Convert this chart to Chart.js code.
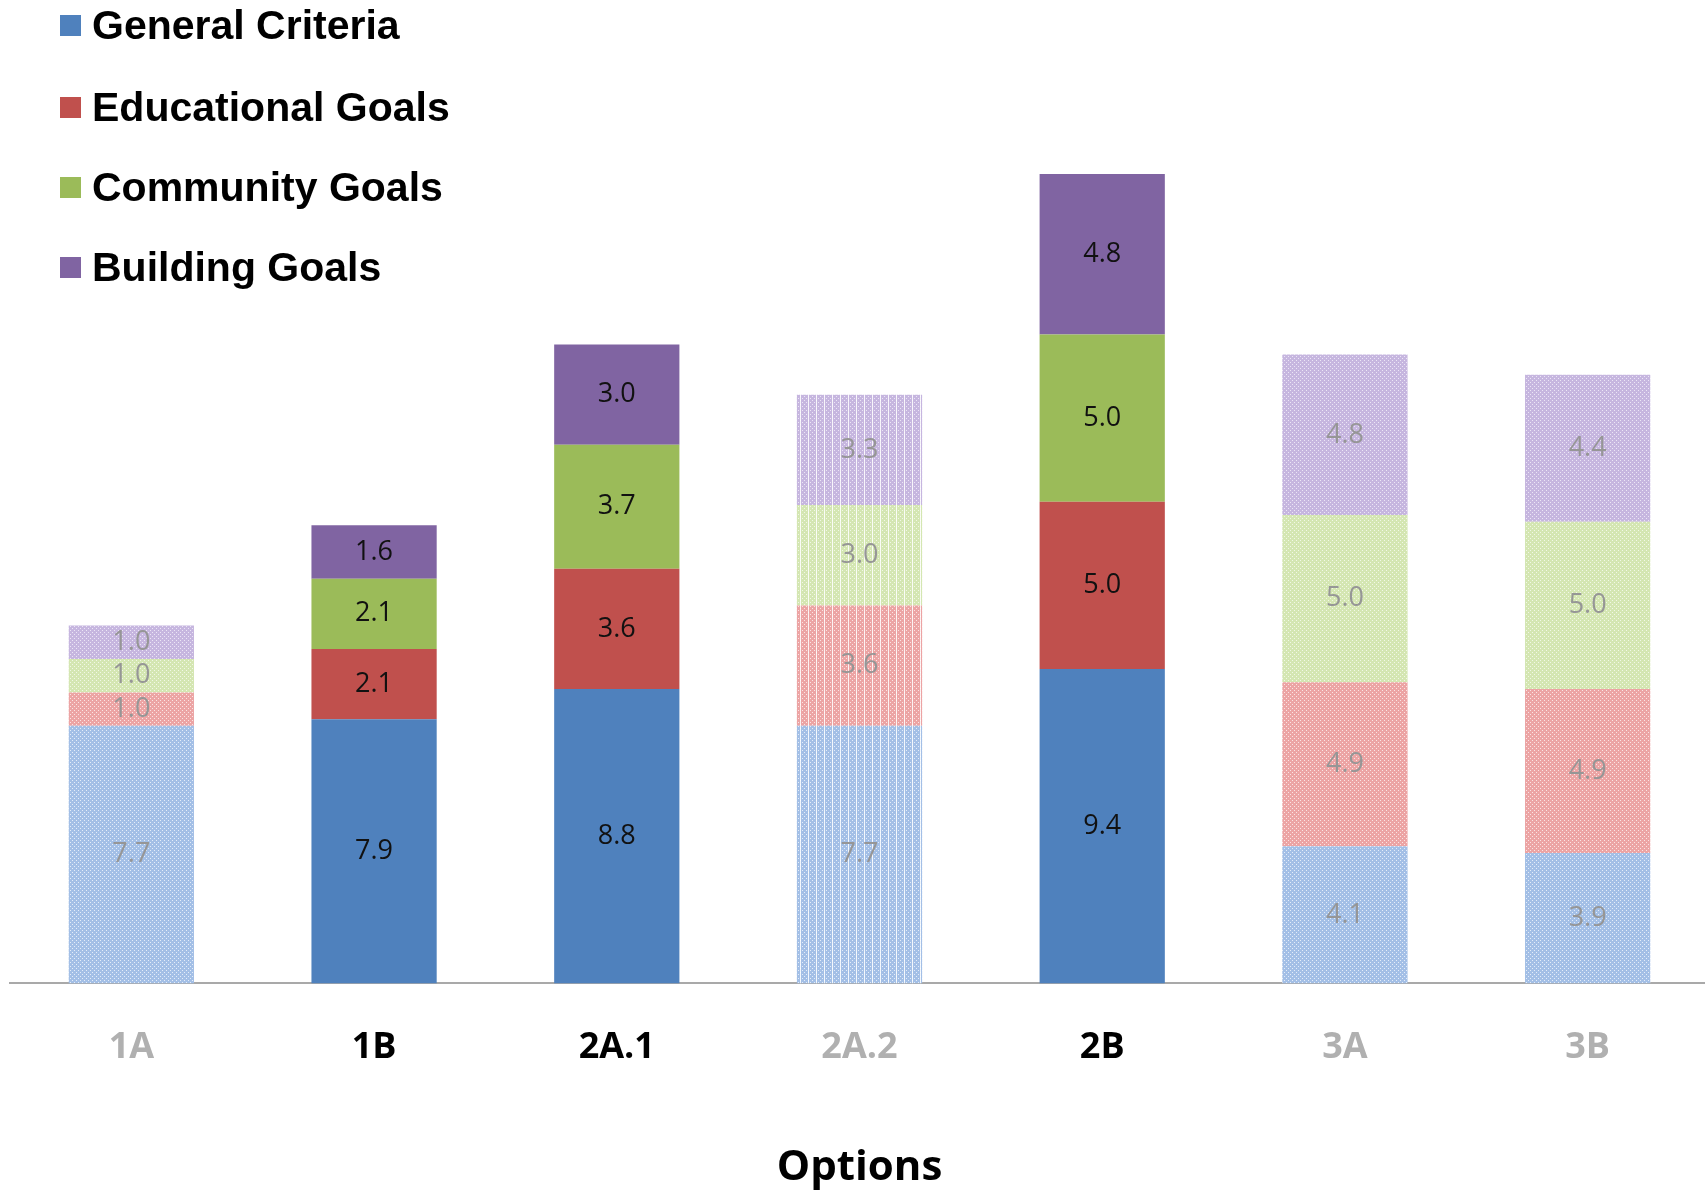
<!DOCTYPE html>
<html>
<head>
<meta charset="utf-8">
<script src="https://cdn.jsdelivr.net/npm/chart.js@4.4.1/dist/chart.umd.min.js"></script>
<style>
  html, body { margin: 0; padding: 0; background: #ffffff; overflow: hidden; }
  #wrap { position: relative; width: 1705px; height: 1193px; overflow: hidden; }
  #c { position: absolute; left: 0; top: 0; }
  #legend { position: absolute; left: 60px; top: 0; font-family: "Liberation Sans", Arial, sans-serif; font-weight: bold; font-size: 41px; color: #000; }
  .item { position: absolute; left: 0; white-space: nowrap; height: 48px; line-height: 48px; }
  .sw { position: absolute; left: 0; top: 14px; width: 21px; height: 21px; }
  .lbl { position: absolute; left: 32px; top: 0; }
</style>
</head>
<body>
<div id="wrap">
  <canvas id="c" width="1709" height="1193"></canvas>
  <div id="legend"></div>
</div>
<script>
// ---- data ----
const categories = ['1A', '1B', '2A.1', '2A.2', '2B', '3A', '3B'];
const generalCriteria = [7.7, 7.9, 8.8, 7.7, 9.4, 4.1, 3.9];
const educationalGoals = [1.0, 2.1, 3.6, 3.6, 5.0, 4.9, 4.9];
const communityGoals = [1.0, 2.1, 3.7, 3.0, 5.0, 5.0, 5.0];
const buildingGoals = [1.0, 1.6, 3.0, 3.3, 4.8, 4.8, 4.4];
const seriesNames = ['General Criteria', 'Educational Goals', 'Community Goals', 'Building Goals'];
// which options are highlighted (solid) vs faded
const highlighted = [false, true, true, false, true, false, false];
const striped = [false, false, false, true, false, false, false];

// ---- styles ----
const solidColors = ['#4f81bd', '#c0504d', '#9bbb59', '#8064a2'];
const fadedBase = ['#a3bfe6', '#eca4a4', '#d4e6b2', '#c6b6df'];
const fadedDot = ['#e4edf9', '#fbe4e4', '#f1f8e6', '#ece6f6'];

function makePattern(base, dot, stripes) {
  const w = stripes ? 8 : 4, h = 4;
  const cv = document.createElement('canvas');
  cv.width = w; cv.height = h;
  const g = cv.getContext('2d');
  g.fillStyle = base; g.fillRect(0, 0, w, h);
  g.fillStyle = dot;
  for (let x = 0; x < w; x += 4) {
    g.fillRect(x, 0, 1, 1);
    g.fillRect(x + 2, 2, 1, 1);
  }
  if (stripes) {
    g.fillStyle = 'rgba(255,255,255,0.85)';
    g.fillRect(0, 0, 1, h);
  }
  return g.createPattern(cv, 'repeat');
}

const seriesData = [generalCriteria, educationalGoals, communityGoals, buildingGoals];
const datasets = seriesData.map((vals, s) => {
  const dotted = makePattern(fadedBase[s], fadedDot[s], false);
  const stripedPat = makePattern(fadedBase[s], fadedDot[s], true);
  return {
    label: seriesNames[s],
    data: vals,
    backgroundColor: categories.map((c, i) => highlighted[i] ? solidColors[s] : (striped[i] ? stripedPat : dotted)),
    borderWidth: 0,
    barPercentage: 0.516,
    categoryPercentage: 1.0
  };
});

// legend (HTML text)
const legendEl = document.getElementById('legend');
const legendTops = [1, 83, 163, 243];
seriesNames.forEach((n, s) => {
  const d = document.createElement('div');
  d.className = 'item';
  d.style.top = legendTops[s] + 'px';
  d.innerHTML = '<span class="sw" style="background:' + solidColors[s] + '"></span><span class="lbl">' + n + '</span>';
  legendEl.appendChild(d);
});

const valueLabels = {
  id: 'valueLabels',
  afterDatasetsDraw(chart) {
    const ctx = chart.ctx;
    ctx.save();
    ctx.font = '27px "Open Sans", sans-serif';
    ctx.textAlign = 'center';
    ctx.textBaseline = 'middle';
    chart.data.datasets.forEach((ds, di) => {
      const meta = chart.getDatasetMeta(di);
      meta.data.forEach((el, i) => {
        const v = ds.data[i];
        const y = (el.y + el.base) / 2;
        ctx.fillStyle = highlighted[i] ? '#111111' : '#969696';
        ctx.fillText(v.toFixed(1), el.x, y);
      });
    });
    ctx.restore();
  }
};

new Chart(document.getElementById('c'), {
  type: 'bar',
  data: { labels: categories, datasets: datasets },
  options: {
    responsive: false,
    animation: false,
    devicePixelRatio: 1,
    layout: { padding: { left: 10, right: 0, top: 0, bottom: 0 } },
    plugins: {
      legend: { display: false },
      tooltip: { enabled: false }
    },
    scales: {
      x: {
        stacked: true,
        grid: { display: false, drawTicks: false },
        border: { display: true, color: '#a9a9a9', width: 2 },
        ticks: {
          padding: 43,
          font: { family: '"Open Sans", sans-serif', size: 36, weight: 'bold', lineHeight: 1.2 },
          color: (c) => highlighted[c.index] ? '#000000' : '#b0b0b0'
        },
        title: {
          display: true,
          text: 'Options',
          color: '#000000',
          font: { family: '"Open Sans", sans-serif', size: 42, weight: 'bold', lineHeight: 1.2 },
          padding: { top: 30, bottom: 0 }
        }
      },
      y: {
        stacked: true,
        display: false,
        min: 0,
        max: 29.4
      }
    }
  },
  plugins: [valueLabels]
});
</script>
</body>
</html>
